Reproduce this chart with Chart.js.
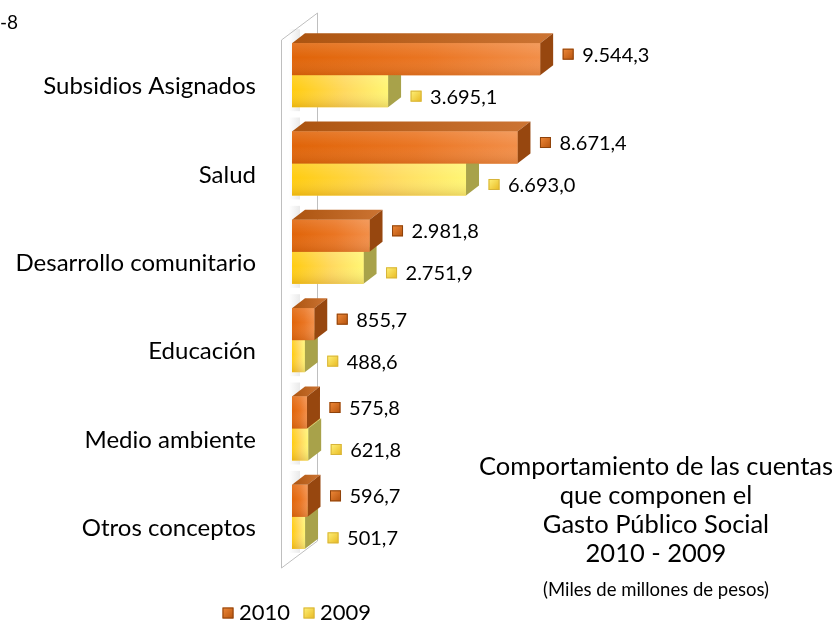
<!DOCTYPE html>
<html>
<head>
    <meta charset="utf-8">
    <title>Gasto Público Social 2010 - 2009</title>
    <style>
        body {
            margin: 0;
            background: #ffffff;
            font-family: 'Lato', sans-serif;
        }
        #wrap {
            position: relative;
            width: 839px;
            height: 621px;
        }
        #corner {
            position: absolute;
            left: 0;
            top: 10px;
            font-size: 19px;
            color: #000;
        }
        #chart-title {
            position: absolute;
            left: 466px;
            top: 451px;
            width: 380px;
            text-align: center;
            color: #000;
            font-size: 25.5px;
            line-height: 29px;
        }
        #chart-title .units {
            font-size: 18.5px;
            line-height: 22px;
            margin-top: 11px;
        }
    </style>
    <script src="https://cdn.jsdelivr.net/npm/chart.js"></script>
</head>
<body>
<div id="wrap">
    <canvas id="gastoChart" width="839" height="621"></canvas>
    <div id="corner">-8</div>
    <div id="chart-title">
        Comportamiento de las cuentas<br>
        que componen el<br>
        Gasto Público Social<br>
        2010 - 2009
        <div class="units">(Miles de millones de pesos)</div>
    </div>
</div>
<script>
    const categories = ['Subsidios Asignados', 'Salud', 'Desarrollo comunitario', 'Educación', 'Medio ambiente', 'Otros conceptos'];
    const values2010 = [9544.3, 8671.4, 2981.8, 855.7, 575.8, 596.7];
    const values2009 = [3695.1, 6693.0, 2751.9, 488.6, 621.8, 501.7];
    const seriesNames = ['2010', '2009'];

    // colores de cada serie (frente, tapa, costado, marcador)
    const styles = [
        { front: ['#E06408', '#EA7522', '#F28E48'], top: ['#CC7433', '#AC5410'], side: '#97470F', mark: ['#F08A3A', '#B5520C'], edge: '#8E430C' },
        { front: ['#FFCC10', '#FFD95E', '#FFF674'], top: ['#E6D15A', '#C9B53C'], side: '#A8A24A', mark: ['#FFF27A', '#E8B820'], edge: '#D7B43A' }
    ];
    const DX = 13, DY = 10;

    function fmt(v) {
        const parts = v.toFixed(1).split('.');
        return parts[0].replace(/\B(?=(\d{3})+(?!\d))/g, '.') + ',' + parts[1];
    }

    function drawMarker(ctx, cx, cy, st) {
        const s = 11;
        const g = ctx.createLinearGradient(cx - s / 2, cy - s / 2, cx + s / 2, cy + s / 2);
        g.addColorStop(0, st.mark[0]);
        g.addColorStop(1, st.mark[1]);
        ctx.fillStyle = g;
        ctx.fillRect(cx - s / 2, cy - s / 2, s, s);
        ctx.strokeStyle = st.edge;
        ctx.lineWidth = 1;
        ctx.strokeRect(cx - s / 2 + 0.5, cy - s / 2 + 0.5, s - 1, s - 1);
    }

    function drawBar(ctx, el, st) {
        const p = el.getProps(['x', 'y', 'base', 'height'], true);
        const top = p.y - p.height / 2, bottom = p.y + p.height / 2;
        const left = p.base, right = p.x;

        // tapa
        let g = ctx.createLinearGradient(left, 0, right + DX, 0);
        g.addColorStop(0, st.top[1]);
        g.addColorStop(1, st.top[0]);
        ctx.fillStyle = g;
        ctx.beginPath();
        ctx.moveTo(left, top);
        ctx.lineTo(left + DX, top - DY);
        ctx.lineTo(right + DX, top - DY);
        ctx.lineTo(right, top);
        ctx.closePath();
        ctx.fill();

        // costado
        ctx.fillStyle = st.side;
        ctx.beginPath();
        ctx.moveTo(right, top);
        ctx.lineTo(right + DX, top - DY);
        ctx.lineTo(right + DX, bottom - DY);
        ctx.lineTo(right, bottom);
        ctx.closePath();
        ctx.fill();

        // frente
        g = ctx.createLinearGradient(left, 0, Math.max(right, left + 1), 0);
        g.addColorStop(0, st.front[0]);
        g.addColorStop(0.55, st.front[1]);
        g.addColorStop(1, st.front[2]);
        ctx.fillStyle = g;
        ctx.fillRect(left, top, right - left, bottom - top);
        g = ctx.createLinearGradient(0, top, 0, bottom);
        g.addColorStop(0, 'rgba(255,255,255,0.12)');
        g.addColorStop(0.45, 'rgba(255,255,255,0)');
        g.addColorStop(1, 'rgba(120,50,0,0.16)');
        ctx.fillStyle = g;
        ctx.fillRect(left, top, right - left, bottom - top);
    }

    const bars3d = {
        id: 'bars3d',
        beforeDatasetsDraw(chart) {
            // pared del eje
            const ctx = chart.ctx;
            const a = chart.chartArea;
            const fx = a.left - 11, bx = a.left + 25;
            const ft = a.top + 9, fb = a.bottom + 7;
            const bt = ft - 27, bb = fb - 27;
            ctx.save();
            ctx.fillStyle = '#ffffff';
            ctx.beginPath();
            ctx.moveTo(fx, ft); ctx.lineTo(bx, bt); ctx.lineTo(bx, bb); ctx.lineTo(fx, fb);
            ctx.closePath();
            ctx.fill();
            ctx.strokeStyle = '#bfbfbf';
            ctx.lineWidth = 1;
            ctx.beginPath();
            ctx.moveTo(fx + 0.5, fb); ctx.lineTo(fx + 0.5, ft); ctx.lineTo(bx + 0.5, bt); ctx.lineTo(bx + 0.5, bb); ctx.lineTo(fx + 0.5, fb);
            ctx.stroke();
            // sombra suave de cada grupo sobre la pared
            const m0 = chart.getDatasetMeta(0);
            m0.data.forEach(e => {
                const t = e.y - e.height / 2 - DY;
                const sg = ctx.createLinearGradient(e.base - 3, 0, e.base + 8, 0);
                sg.addColorStop(0, 'rgba(170,170,170,0)');
                sg.addColorStop(1, 'rgba(170,170,170,0.25)');
                ctx.fillStyle = sg;
                ctx.fillRect(e.base - 3, t - 4, 11, e.height * 2 + DY + 8);
            });
            ctx.restore();
        },
        afterDatasetsDraw(chart) {
            const ctx = chart.ctx;
            const m0 = chart.getDatasetMeta(0), m1 = chart.getDatasetMeta(1);
            ctx.save();
            for (let i = 0; i < categories.length; i++) {
                drawBar(ctx, m1.data[i], styles[1]);
                drawBar(ctx, m0.data[i], styles[0]);
            }
            // etiquetas de valores
            ctx.font = '20px Lato';
            ctx.textAlign = 'left';
            ctx.textBaseline = 'middle';
            [m0, m1].forEach((meta, d) => {
                const vals = chart.data.datasets[d].data;
                meta.data.forEach((el, i) => {
                    const cx = el.x + 28;
                    const cy = el.y + (d === 0 ? -5 : 5);
                    drawMarker(ctx, cx, cy, styles[d]);
                    ctx.fillStyle = '#000';
                    ctx.fillText(fmt(vals[i]), cx + 14, cy + 1);
                });
            });
            ctx.restore();
        },
        afterDraw(chart) {
            // leyenda
            const ctx = chart.ctx;
            ctx.save();
            ctx.font = '22px Lato';
            ctx.textBaseline = 'middle';
            const xs = [228, 309];
            chart.data.datasets.forEach((ds, d) => {
                drawMarker(ctx, xs[d], 613, styles[d]);
                ctx.fillStyle = '#000';
                ctx.fillText(ds.label, xs[d] + 11, 613);
            });
            ctx.restore();
        }
    };

    new Chart(document.getElementById('gastoChart'), {
        type: 'bar',
        data: {
            labels: categories,
            datasets: [
                { label: seriesNames[0], data: values2010, backgroundColor: '#E36C0A' },
                { label: seriesNames[1], data: values2009, backgroundColor: '#FFD43A' }
            ]
        },
        options: {
            indexAxis: 'y',
            responsive: false,
            animation: false,
            categoryPercentage: 0.724,
            barPercentage: 1.0,
            layout: { padding: { left: 0, right: 287, top: 31, bottom: 60 } },
            scales: {
                x: { display: false, min: 0, max: 10000 },
                y: {
                    afterFit(scale) {
                        scale.width = 292;
                        scale.paddingTop = 0;
                        scale.paddingBottom = 0;
                    },
                    grid: { display: false },
                    border: { display: false },
                    ticks: {
                        padding: 28,
                        labelOffset: 11.5,
                        color: '#000',
                        font: { family: 'Lato', size: 24 }
                    }
                }
            },
            plugins: {
                legend: { display: false },
                tooltip: { enabled: false }
            }
        },
        plugins: [bars3d]
    });
</script>
</body>
</html>
